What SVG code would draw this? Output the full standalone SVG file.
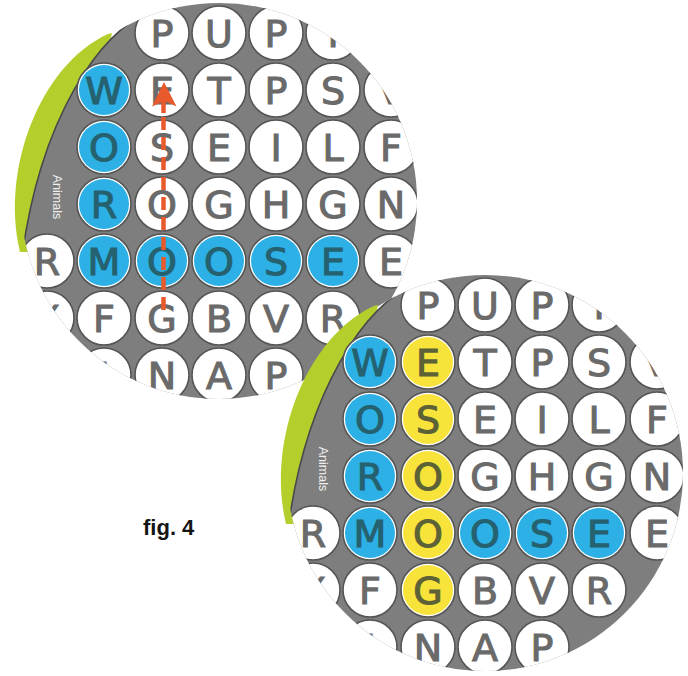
<svg xmlns="http://www.w3.org/2000/svg" width="688" height="676" viewBox="0 0 688 676">
<style>
.bg{fill:#ffffff}
.board{fill:#7e7e7e}
.edge{fill:none;stroke:#4a4a4a;stroke-width:1.6}
.rim{fill:#b4cf2b}
.c{fill:#ffffff;stroke:#555555;stroke-width:1.6}
.b{fill:#2cb0e5}
.y{fill:#f8e33b}
.t{font-family:"DejaVu Sans","Liberation Sans",sans-serif;font-size:38px;text-anchor:middle;fill:#6a6a6a;stroke:#6a6a6a;stroke-width:1.1}
.tb{fill:#25616f;stroke:#25616f}
.ty{fill:#5d6236;stroke:#5d6236}
.lbl{font-family:"Liberation Sans",Arial,sans-serif;font-size:12.5px;fill:#f0f0f0;text-anchor:middle}
.fig{font-family:"Liberation Sans",Arial,sans-serif;font-size:22px;font-weight:bold;fill:#141414}
.arr{fill:none;stroke:#e8592b;stroke-width:4.5}
</style>
<defs>
<clipPath id="disc" clipPathUnits="userSpaceOnUse"><circle cx="219" cy="201" r="198"/></clipPath>
</defs>
<rect x="0" y="0" width="688" height="676" fill="#ffffff"/>

<g id="disc1">
<rect class="bg" x="0" y="-10" width="440" height="430" clip-path="url(#disc)"/>
<path class="rim" d="M108,34 C40,65 0,170 20,252 L60,252 L112,33 Z"/>
<g clip-path="url(#disc)">
<path class="board" d="M175,-10 L150,12 C100,30 40,120 22,257 L0,330 L0,430 L440,430 L440,-10 Z"/>
<path class="edge" d="M175,-10 L150,12 C100,30 40,120 22,257 L0,330"/>
<text class="lbl" transform="translate(53,197) rotate(90)">Animals</text>
<g id="d1-r0">
<circle class="c" cx="162" cy="33" r="27"/><text class="t" x="162" y="47">P</text>
<circle class="c" cx="219" cy="33" r="27"/><text class="t" x="219" y="47">U</text>
<circle class="c" cx="276" cy="33" r="27"/><text class="t" x="276" y="47">P</text>
<circle class="c" cx="333" cy="33" r="27"/><text class="t" x="333" y="47">T</text>
</g>
<g id="d1-r1">
<circle class="c" cx="104" cy="90" r="27"/><circle class="b" cx="104" cy="90" r="25"/><text class="t tb" x="104" y="104">W</text>
<circle class="c" cx="162" cy="90" r="27"/><text class="t" x="162" y="104">E</text>
<circle class="c" cx="219" cy="90" r="27"/><text class="t" x="219" y="104">T</text>
<circle class="c" cx="276" cy="90" r="27"/><text class="t" x="276" y="104">P</text>
<circle class="c" cx="333" cy="90" r="27"/><text class="t" x="333" y="104">S</text>
<circle class="c" cx="391" cy="90" r="27"/><text class="t" x="391" y="104">V</text>
</g>
<g id="d1-r2">
<circle class="c" cx="104" cy="147" r="27"/><circle class="b" cx="104" cy="147" r="25"/><text class="t tb" x="104" y="161">O</text>
<circle class="c" cx="162" cy="147" r="27"/><text class="t" x="162" y="161">S</text>
<circle class="c" cx="219" cy="147" r="27"/><text class="t" x="219" y="161">E</text>
<circle class="c" cx="276" cy="147" r="27"/><text class="t" x="276" y="161">I</text>
<circle class="c" cx="333" cy="147" r="27"/><text class="t" x="333" y="161">L</text>
<circle class="c" cx="391" cy="147" r="27"/><text class="t" x="391" y="161">F</text>
</g>
<g id="d1-r3">
<circle class="c" cx="104" cy="204" r="27"/><circle class="b" cx="104" cy="204" r="25"/><text class="t tb" x="104" y="218">R</text>
<circle class="c" cx="162" cy="204" r="27"/><text class="t" x="162" y="218">O</text>
<circle class="c" cx="219" cy="204" r="27"/><text class="t" x="219" y="218">G</text>
<circle class="c" cx="276" cy="204" r="27"/><text class="t" x="276" y="218">H</text>
<circle class="c" cx="333" cy="204" r="27"/><text class="t" x="333" y="218">G</text>
<circle class="c" cx="391" cy="204" r="27"/><text class="t" x="391" y="218">N</text>
</g>
<g id="d1-r4">
<circle class="c" cx="47" cy="261" r="27"/><text class="t" x="47" y="275">R</text>
<circle class="c" cx="104" cy="261" r="27"/><circle class="b" cx="104" cy="261" r="25"/><text class="t tb" x="104" y="275">M</text>
<circle class="c" cx="162" cy="261" r="27"/><circle class="b" cx="162" cy="261" r="25"/><text class="t tb" x="162" y="275">O</text>
<circle class="c" cx="219" cy="261" r="27"/><circle class="b" cx="219" cy="261" r="25"/><text class="t tb" x="219" y="275">O</text>
<circle class="c" cx="276" cy="261" r="27"/><circle class="b" cx="276" cy="261" r="25"/><text class="t tb" x="276" y="275">S</text>
<circle class="c" cx="333" cy="261" r="27"/><circle class="b" cx="333" cy="261" r="25"/><text class="t tb" x="333" y="275">E</text>
<circle class="c" cx="391" cy="261" r="27"/><text class="t" x="391" y="275">E</text>
</g>
<g id="d1-r5">
<circle class="c" cx="47" cy="318" r="27"/><text class="t" x="47" y="332">X</text>
<circle class="c" cx="104" cy="318" r="27"/><text class="t" x="104" y="332">F</text>
<circle class="c" cx="162" cy="318" r="27"/><text class="t" x="162" y="332">G</text>
<circle class="c" cx="219" cy="318" r="27"/><text class="t" x="219" y="332">B</text>
<circle class="c" cx="276" cy="318" r="27"/><text class="t" x="276" y="332">V</text>
<circle class="c" cx="333" cy="318" r="27"/><text class="t" x="333" y="332">R</text>
</g>
<g id="d1-r6">
<circle class="c" cx="104" cy="375" r="27"/><text class="t" x="104" y="389">I</text>
<circle class="c" cx="162" cy="375" r="27"/><text class="t" x="162" y="389">N</text>
<circle class="c" cx="219" cy="375" r="27"/><text class="t" x="219" y="389">A</text>
<circle class="c" cx="276" cy="375" r="27"/><text class="t" x="276" y="389">P</text>
</g>
<g id="arrow">
<path class="arr" d="M163.5,310 L163.5,117" stroke-dasharray="13 7"/>
<path d="M163.5,113 L163.5,100" stroke="#e8592b" stroke-width="4.5" fill="none"/>
<polygon points="164,82 176.5,106.5 164.5,101 152,106.5" fill="#e8592b"/>
</g>
</g>
</g>

<g id="disc2" transform="translate(266,272)">
<rect class="bg" x="0" y="-10" width="440" height="430" clip-path="url(#disc)"/>
<path class="rim" d="M108,34 C40,65 0,170 20,252 L60,252 L112,33 Z"/>
<g clip-path="url(#disc)">
<path class="board" d="M175,-10 L150,12 C100,30 40,120 22,257 L0,330 L0,430 L440,430 L440,-10 Z"/>
<path class="edge" d="M175,-10 L150,12 C100,30 40,120 22,257 L0,330"/>
<text class="lbl" transform="translate(53,197) rotate(90)">Animals</text>
<g id="d2-r0">
<circle class="c" cx="162" cy="33" r="27"/><text class="t" x="162" y="47">P</text>
<circle class="c" cx="219" cy="33" r="27"/><text class="t" x="219" y="47">U</text>
<circle class="c" cx="276" cy="33" r="27"/><text class="t" x="276" y="47">P</text>
<circle class="c" cx="333" cy="33" r="27"/><text class="t" x="333" y="47">T</text>
</g>
<g id="d2-r1">
<circle class="c" cx="104" cy="90" r="27"/><circle class="b" cx="104" cy="90" r="25"/><text class="t tb" x="104" y="104">W</text>
<circle class="c" cx="162" cy="90" r="27"/><circle class="y" cx="162" cy="90" r="25"/><text class="t ty" x="162" y="104">E</text>
<circle class="c" cx="219" cy="90" r="27"/><text class="t" x="219" y="104">T</text>
<circle class="c" cx="276" cy="90" r="27"/><text class="t" x="276" y="104">P</text>
<circle class="c" cx="333" cy="90" r="27"/><text class="t" x="333" y="104">S</text>
<circle class="c" cx="391" cy="90" r="27"/><text class="t" x="391" y="104">V</text>
</g>
<g id="d2-r2">
<circle class="c" cx="104" cy="147" r="27"/><circle class="b" cx="104" cy="147" r="25"/><text class="t tb" x="104" y="161">O</text>
<circle class="c" cx="162" cy="147" r="27"/><circle class="y" cx="162" cy="147" r="25"/><text class="t ty" x="162" y="161">S</text>
<circle class="c" cx="219" cy="147" r="27"/><text class="t" x="219" y="161">E</text>
<circle class="c" cx="276" cy="147" r="27"/><text class="t" x="276" y="161">I</text>
<circle class="c" cx="333" cy="147" r="27"/><text class="t" x="333" y="161">L</text>
<circle class="c" cx="391" cy="147" r="27"/><text class="t" x="391" y="161">F</text>
</g>
<g id="d2-r3">
<circle class="c" cx="104" cy="204" r="27"/><circle class="b" cx="104" cy="204" r="25"/><text class="t tb" x="104" y="218">R</text>
<circle class="c" cx="162" cy="204" r="27"/><circle class="y" cx="162" cy="204" r="25"/><text class="t ty" x="162" y="218">O</text>
<circle class="c" cx="219" cy="204" r="27"/><text class="t" x="219" y="218">G</text>
<circle class="c" cx="276" cy="204" r="27"/><text class="t" x="276" y="218">H</text>
<circle class="c" cx="333" cy="204" r="27"/><text class="t" x="333" y="218">G</text>
<circle class="c" cx="391" cy="204" r="27"/><text class="t" x="391" y="218">N</text>
</g>
<g id="d2-r4">
<circle class="c" cx="47" cy="261" r="27"/><text class="t" x="47" y="275">R</text>
<circle class="c" cx="104" cy="261" r="27"/><circle class="b" cx="104" cy="261" r="25"/><text class="t tb" x="104" y="275">M</text>
<circle class="c" cx="162" cy="261" r="27"/><circle class="y" cx="162" cy="261" r="25"/><text class="t ty" x="162" y="275">O</text>
<circle class="c" cx="219" cy="261" r="27"/><circle class="b" cx="219" cy="261" r="25"/><text class="t tb" x="219" y="275">O</text>
<circle class="c" cx="276" cy="261" r="27"/><circle class="b" cx="276" cy="261" r="25"/><text class="t tb" x="276" y="275">S</text>
<circle class="c" cx="333" cy="261" r="27"/><circle class="b" cx="333" cy="261" r="25"/><text class="t tb" x="333" y="275">E</text>
<circle class="c" cx="391" cy="261" r="27"/><text class="t" x="391" y="275">E</text>
</g>
<g id="d2-r5">
<circle class="c" cx="47" cy="318" r="27"/><text class="t" x="47" y="332">X</text>
<circle class="c" cx="104" cy="318" r="27"/><text class="t" x="104" y="332">F</text>
<circle class="c" cx="162" cy="318" r="27"/><circle class="y" cx="162" cy="318" r="25"/><text class="t ty" x="162" y="332">G</text>
<circle class="c" cx="219" cy="318" r="27"/><text class="t" x="219" y="332">B</text>
<circle class="c" cx="276" cy="318" r="27"/><text class="t" x="276" y="332">V</text>
<circle class="c" cx="333" cy="318" r="27"/><text class="t" x="333" y="332">R</text>
</g>
<g id="d2-r6">
<circle class="c" cx="104" cy="375" r="27"/><text class="t" x="104" y="389">I</text>
<circle class="c" cx="162" cy="375" r="27"/><text class="t" x="162" y="389">N</text>
<circle class="c" cx="219" cy="375" r="27"/><text class="t" x="219" y="389">A</text>
<circle class="c" cx="276" cy="375" r="27"/><text class="t" x="276" y="389">P</text>
</g>
</g>
</g>

<g id="caption">
<text class="fig" x="143" y="535">fig. 4</text>
</g>
</svg>
